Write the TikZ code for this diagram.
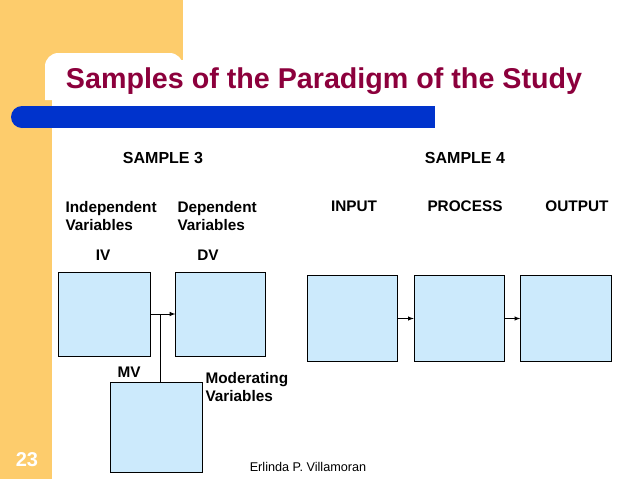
\documentclass[tikz,border=0pt]{standalone}
\usepackage{fontspec}
\setmainfont{Liberation Sans}
\definecolor{bandyellow}{RGB}{253,204,108}
\definecolor{barblue}{RGB}{0,51,204}
\definecolor{titlered}{RGB}{140,0,60}
\definecolor{boxblue}{RGB}{204,234,252}
\tikzset{every picture/.style={line width=0.75pt}}
\tikzset{
  varbox/.style={draw,fill=boxblue,line width=0.6pt},
  lbl/.style={font=\bfseries\fontsize{11.5}{14}\selectfont,inner sep=0.75pt,align=left},
  link/.style={-latex,line width=0.5pt}
}

\begin{document}
\begin{tikzpicture}[x=0.75pt,y=0.75pt,yscale=-1,xscale=1]
\useasboundingbox (0,0) rectangle (638,479);
% background bands
\fill[bandyellow] (0,0) rectangle (183,60) ;
\fill[bandyellow] (0,0) rectangle (52,479) ;
\fill[white] (45,90) [rounded corners=10pt] -- (45,53) -- (183,53) [sharp corners] -- (183,60) -- (183,100) -- (45,100) -- cycle ;
\fill[barblue] (22,117) circle (11) ;
\fill[barblue] (22,106) rectangle (435,128) ;

% title
\draw (324,81) node [inner sep=0.75pt,text=titlered,font=\bfseries\fontsize{21.5}{24}\selectfont] (title) {Samples of the Paradigm of the Study};
\draw (163,158) node [inner sep=0.75pt,font=\bfseries\fontsize{12}{14}\selectfont] (s3) {SAMPLE 3};
\draw (465,158) node [inner sep=0.75pt,font=\bfseries\fontsize{12}{14}\selectfont] (s4) {SAMPLE 4};

% sample 3
\draw (64,216) node [anchor=west,lbl] (indep) {Independent\\Variables};
\draw (176,216) node [anchor=west,lbl] (dep) {Dependent\\Variables};
\draw (103,255) node [lbl] (ivlbl) {IV};
\draw (208,255) node [lbl] (dvlbl) {DV};
\draw (129,372) node [lbl] (mvlbl) {MV};
\draw (204,387) node [anchor=west,lbl] (moder) {Moderating\\Variables};
\node [varbox,minimum width=69pt,minimum height=63pt] (iv) at (104,314) {};
\node [varbox,minimum width=67pt,minimum height=63pt] (dv) at (220.5,314) {};
\node [varbox,minimum width=69pt,minimum height=67.5pt] (mv) at (156,427) {};
\draw [link] (iv.east) -- (dv.west) ;
\coordinate (join) at (160,314) ;
\draw [line width=0.5pt] (mv.north -| join) -- (join) ;

% sample 4
\draw (354,206) node [lbl] (inlbl) {INPUT};
\draw (465,206) node [lbl] (prlbl) {PROCESS};
\draw (577,206) node [lbl] (outlbl) {OUTPUT};
\node [varbox,minimum width=68pt,minimum height=64pt] (input) at (352.5,318.5) {};
\node [varbox,minimum width=68pt,minimum height=64pt] (process) at (459.5,318.5) {};
\node [varbox,minimum width=68pt,minimum height=64pt] (output) at (566,318.5) {};
\draw [link] (input) -- (process) ;
\draw [link] (process) -- (output) ;

% footer
\draw (27,460) node [inner sep=0.75pt,text=white,font=\bfseries\fontsize{15}{17}\selectfont] (pg) {23};
\draw (308,467) node [inner sep=0.75pt,font=\fontsize{9.5}{11}\selectfont] (author) {Erlinda P. Villamoran};
\end{tikzpicture}
\end{document}
